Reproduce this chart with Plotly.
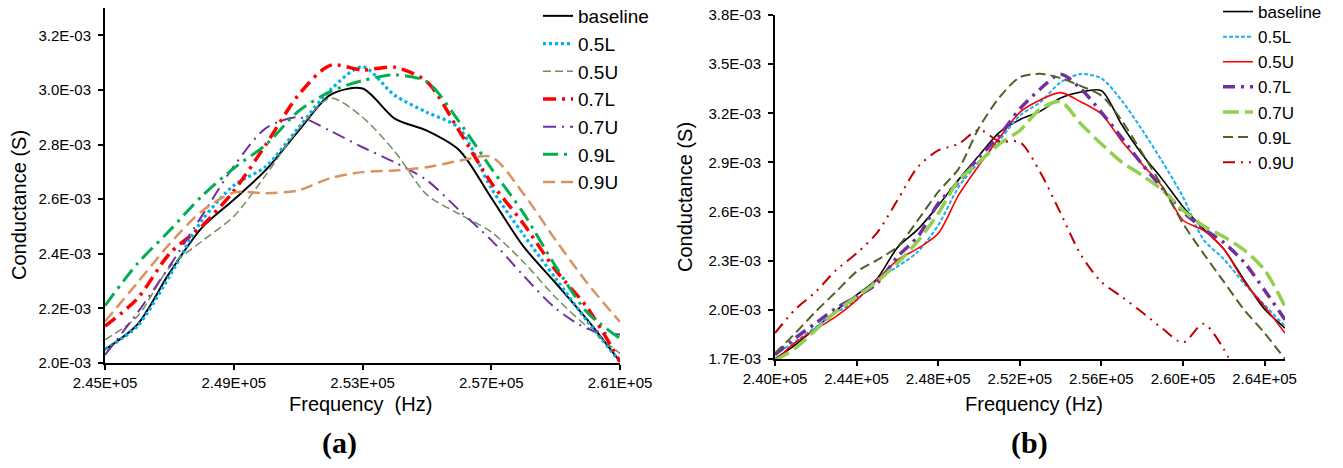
import plotly.graph_objects as go

# ---------------- Panel (a) data ----------------
freq_a = [245000, 246000, 247000, 248000, 249000, 250000, 251000, 252000, 253000,
          254000, 255000, 256000, 257000, 258000, 259000, 260000, 261000]
a_baseline = [2.049, 2.140, 2.329, 2.494, 2.598, 2.707, 2.848, 2.982, 3.005,
              2.895, 2.851, 2.780, 2.605, 2.427, 2.293, 2.156, 2.005]
a_05L = [2.051, 2.134, 2.317, 2.520, 2.650, 2.720, 2.860, 3.000, 3.085,
         2.980, 2.918, 2.860, 2.640, 2.470, 2.310, 2.150, 2.005]
a_05U = [2.085, 2.170, 2.350, 2.445, 2.537, 2.689, 2.854, 2.970, 2.900,
         2.775, 2.616, 2.546, 2.480, 2.370, 2.240, 2.130, 2.035]
a_07L = [2.135, 2.235, 2.400, 2.500, 2.630, 2.800, 2.980, 3.090, 3.073,
         3.083, 3.030, 2.850, 2.660, 2.510, 2.340, 2.200, 2.005]
a_07U = [2.030, 2.183, 2.354, 2.537, 2.720, 2.860, 2.900, 2.850, 2.790,
         2.735, 2.669, 2.560, 2.450, 2.320, 2.200, 2.125, 2.104]
a_09L = [2.210, 2.363, 2.484, 2.610, 2.713, 2.800, 2.921, 2.994, 3.034,
         3.055, 3.030, 2.884, 2.713, 2.549, 2.354, 2.183, 2.090]
a_09U = [2.152, 2.293, 2.435, 2.555, 2.624, 2.622, 2.632, 2.677, 2.699,
         2.705, 2.717, 2.740, 2.755, 2.620, 2.450, 2.290, 2.150]

# ---------------- Panel (b) data ----------------
freq_b = [240000, 241000, 242000, 243000, 244000, 245000, 246000, 247000, 248000,
          249000, 250000, 251000, 252000, 253000, 254000, 255000, 256000, 257000,
          258000, 259000, 260000, 261000, 262000, 263000, 264000, 265000]
b_baseline = [1.700, 1.787, 1.889, 1.996, 2.091, 2.190, 2.380, 2.491, 2.636, 2.795,
              2.942, 3.084, 3.161, 3.212, 3.293, 3.330, 3.338, 3.130, 2.949, 2.795,
              2.630, 2.495, 2.371, 2.182, 2.004, 1.889]
b_05L = [1.726, 1.807, 1.895, 1.984, 2.061, 2.187, 2.264, 2.355, 2.517, 2.750,
         2.902, 3.034, 3.186, 3.267, 3.389, 3.440, 3.413, 3.277, 3.098, 2.902,
         2.689, 2.430, 2.310, 2.160, 2.030, 1.900]
b_05U = [1.686, 1.801, 1.882, 1.960, 2.060, 2.182, 2.304, 2.375, 2.466, 2.700,
         2.882, 3.050, 3.206, 3.281, 3.326, 3.269, 3.196, 3.030, 2.888, 2.750,
         2.547, 2.486, 2.371, 2.172, 2.020, 1.858]
b_07L = [1.726, 1.828, 1.919, 2.010, 2.081, 2.162, 2.324, 2.446, 2.649, 2.780,
         2.932, 3.064, 3.226, 3.348, 3.439, 3.348, 3.206, 3.050, 2.888, 2.740,
         2.598, 2.497, 2.410, 2.290, 2.120, 1.940]
b_07U = [1.690, 1.767, 1.878, 1.990, 2.081, 2.172, 2.284, 2.420, 2.588, 2.790,
         2.902, 3.013, 3.095, 3.226, 3.270, 3.135, 3.013, 2.902, 2.821, 2.730,
         2.608, 2.513, 2.446, 2.365, 2.243, 2.020]
b_09L = [1.735, 1.858, 1.990, 2.111, 2.233, 2.304, 2.385, 2.547, 2.720, 2.861,
         3.111, 3.297, 3.420, 3.441, 3.415, 3.366, 3.308, 3.155, 2.957, 2.750,
         2.527, 2.345, 2.172, 2.000, 1.858, 1.700]
b_09U = [1.858, 2.004, 2.111, 2.243, 2.345, 2.470, 2.669, 2.872, 2.973, 3.013,
         3.099, 3.028, 3.024, 2.840, 2.590, 2.335, 2.170, 2.080, 1.985, 1.885,
         1.800, 1.915, 1.760, 1.500, None, None]

names = ["baseline", "0.5L", "0.5U", "0.7L", "0.7U", "0.9L", "0.9U"]
series_a = [a_baseline, a_05L, a_05U, a_07L, a_07U, a_09L, a_09U]
series_b = [b_baseline, b_05L, b_05U, b_07L, b_07U, b_09L, b_09U]

# tick values
xt_a = [245000, 249000, 253000, 257000, 261000]
yt_a = [2.0e-3, 2.2e-3, 2.4e-3, 2.6e-3, 2.8e-3, 3.0e-3, 3.2e-3]
xt_b = [240000, 244000, 248000, 252000, 256000, 260000, 264000]
yt_b = [1.7e-3, 2.0e-3, 2.3e-3, 2.6e-3, 2.9e-3, 3.2e-3, 3.5e-3, 3.8e-3]

# styles (color, width, dash)
style_a = [("#000000", 2.0, "solid"),
           ("#00B0F0", 3.2, "3px,3px"),
           ("#6F8C60", 1.5, "8px,4px"),
           ("#FF0000", 3.5, "13px,6px,3px,6px"),
           ("#7030A0", 2.0, "13px,6px,2px,6px"),
           ("#00B050", 3.0, "15px,6px,3px,6px"),
           ("#D9935F", 2.5, "12px,6px")]
style_b = [("#000000", 1.6, "solid"),
           ("#1CB0F0", 2.0, "4px,2px"),
           ("#FF0000", 1.6, "solid"),
           ("#7030A0", 3.5, "12px,6px,3px,6px"),
           ("#92D050", 3.5, "16px,6px"),
           ("#4F6228", 2.0, "10px,5px"),
           ("#C00000", 2.0, "12px,6px,2px,6px,2px,6px")]

W, H = 1343, 468
def px_x(p):
    return p / W
def px_y(p):
    return 1 - p / H

fig = go.Figure()
for nm, ys, (c, w, d) in zip(names, series_a, style_a):
    fig.add_trace(go.Scatter(x=freq_a, y=[v * 1e-3 for v in ys], name=nm, mode="lines",
                             line=dict(color=c, width=w, dash=d, shape="spline", smoothing=0.8),
                             xaxis="x", yaxis="y", legend="legend"))
for nm, ys, (c, w, d) in zip(names, series_b, style_b):
    fig.add_trace(go.Scatter(x=freq_b, y=[None if v is None else v * 1e-3 for v in ys], name=nm,
                             mode="lines",
                             line=dict(color=c, width=w, dash=d, shape="spline", smoothing=0.8),
                             xaxis="x2", yaxis="y2", legend="legend2"))

tickfont = dict(family="Liberation Sans, Arial, sans-serif", size=15, color="#000")
axis_common = dict(showgrid=False, zeroline=False, showline=True, linecolor="#000",
                   linewidth=2, ticks="outside", ticklen=5, tickwidth=1.5, tickcolor="#000",
                   tickfont=tickfont, automargin=False)

fig.update_layout(
    width=W, height=H,
    margin=dict(l=0, r=0, t=0, b=0, autoexpand=False),
    paper_bgcolor="white", plot_bgcolor="white",
    xaxis=dict(domain=[px_x(105), px_x(620)], range=[245000, 261000],
               tickvals=xt_a, ticktext=["%.2E" % v for v in xt_a], anchor="y", **axis_common),
    yaxis=dict(domain=[px_y(363), px_y(8)], range=[2.0e-3, 3.3e-3],
               tickvals=yt_a, ticktext=["%.1E" % v for v in yt_a], anchor="x",
               ticklabelstandoff=4, **axis_common),
    xaxis2=dict(domain=[px_x(775), px_x(1285)], range=[240000, 265000],
                tickvals=xt_b, ticktext=["%.2E" % v for v in xt_b], anchor="y2", **axis_common),
    yaxis2=dict(domain=[px_y(359), px_y(15)], range=[1.7e-3, 3.8e-3],
                tickvals=yt_b, ticktext=["%.1E" % v for v in yt_b], anchor="x2",
                ticklabelstandoff=4, **axis_common),
    legend=dict(x=px_x(538), y=px_y(-3), xanchor="left", yanchor="top",
                font=dict(family="Liberation Sans, Arial, sans-serif", size=19, color="#000"),
                bgcolor="rgba(0,0,0,0)", itemwidth=30, tracegroupgap=0),
    legend2=dict(x=px_x(1218), y=px_y(-6), xanchor="left", yanchor="top",
                 font=dict(family="Liberation Sans, Arial, sans-serif", size=17, color="#000"),
                 bgcolor="rgba(0,0,0,0)", itemwidth=30, tracegroupgap=0),
    showlegend=True,
)

title_font = dict(family="Liberation Sans, Arial, sans-serif", size=20, color="#000")
label_font = dict(family="Liberation Serif, Times New Roman, serif", size=30, color="#000")
annots = [
    dict(text="Conductance (S)", x=px_x(19), y=px_y(205), textangle=-90, font=title_font),
    dict(text="Conductance (S)", x=px_x(685), y=px_y(197), textangle=-90, font=title_font),
    dict(text="Frequency  (Hz)", x=px_x(360), y=px_y(404), font=title_font),
    dict(text="Frequency (Hz)", x=px_x(1034), y=px_y(404), font=title_font),
    dict(text="<b>(a)</b>", x=px_x(339), y=px_y(443), font=label_font),
    dict(text="<b>(b)</b>", x=px_x(1029), y=px_y(443), font=label_font),
]
for a in annots:
    fig.add_annotation(xref="paper", yref="paper", showarrow=False,
                       xanchor="center", yanchor="middle", **a)

fig.write_html("out.html")
